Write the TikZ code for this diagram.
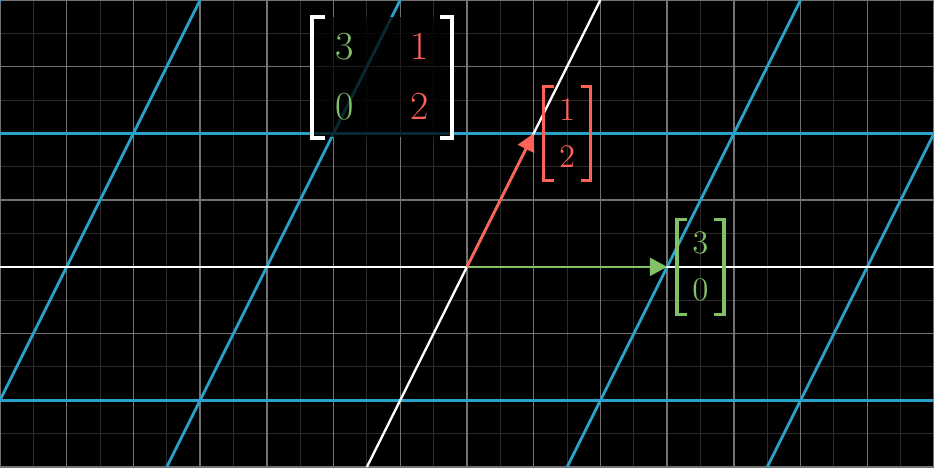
\documentclass[tikz,border=0pt]{standalone}
\usepackage{amsmath}
\usepackage{tikz}
\usetikzlibrary{arrows.meta}
\definecolor{igreen}{HTML}{83C167}
\definecolor{jred}{HTML}{FC6255}
\definecolor{tblue}{HTML}{29A3CC}

\begin{document}
\begin{tikzpicture}[>={Triangle[length=2.6mm, width=2.7mm]}, finegrid/.style={white!17!black, line width=0.4pt}, unitgrid/.style={white!45!black, line width=0.6pt}, tline/.style={tblue, line width=1.2pt}, axis/.style={white, line width=1pt}, vec/.style={->, line width=1.1pt}, bkt/.style={line width=1.7pt}, vbkt/.style={line width=1.3pt}, matbox/.style={minimum width=2.09cm, minimum height=1.77cm, inner sep=0pt, fill=black, fill opacity=0.75, text opacity=1, font=\fontsize{17}{25.6}\selectfont}, vecbox/.style={minimum width=0.69cm, minimum height=1.4cm, inner sep=0pt, align=center, font=\fontsize{14}{20}\selectfont}]
	\fill[black] (-7,-3) rectangle (7,4);
	\useasboundingbox (-7,-3) rectangle (7,4);
	\begin{scope}
		\clip (-7,-3) rectangle (7,4);
		\draw[finegrid] (-7,-3) grid[step=0.5] (7,4);
		\draw[unitgrid] (-7,-3) grid (7,4);
		\foreach \k in {-3,-2,-1,1,2}
			\draw[tline] ({3*\k-1.5},-3) -- ({3*\k+2},4);
		\foreach \k in {-1,1}
			\draw[tline] (-7,2*\k) -- (7,2*\k);
		\draw[axis] (-7,0) -- (7,0);
		\draw[axis] (-1.5,-3) -- (2,4);
	\end{scope}
	\coordinate (o) at (0,0);
	\coordinate (ihat) at (3,0);
	\coordinate (jhat) at (1,2);
	\draw[vec, igreen] (o) -- (ihat);
	\draw[vec, jred] (o) -- (jhat);
	\node[matbox] (mat) at (-1.27,2.84) {\begin{tabular}{@{}c@{\hspace{0.85cm}}c@{}}\textcolor{igreen}{3} & \textcolor{jred}{1}\\ \textcolor{igreen}{0} & \textcolor{jred}{2}\end{tabular}};
	\draw[bkt, white] ([xshift=0.19cm]mat.north west) -| (mat.south west) -- ++(0.19,0);
	\draw[bkt, white] ([xshift=-0.19cm]mat.north east) -| (mat.south east) -- ++(-0.19,0);
	\node[vecbox, jred] (jlab) at (1.5,2.0) {1\\2};
	\draw[vbkt, jred] ([xshift=0.15cm]jlab.north west) -| (jlab.south west) -- ++(0.15,0);
	\draw[vbkt, jred] ([xshift=-0.15cm]jlab.north east) -| (jlab.south east) -- ++(-0.15,0);
	\node[vecbox, igreen] (ilab) at (3.5,0) {3\\0};
	\draw[vbkt, igreen] ([xshift=0.15cm]ilab.north west) -| (ilab.south west) -- ++(0.15,0);
	\draw[vbkt, igreen] ([xshift=-0.15cm]ilab.north east) -| (ilab.south east) -- ++(-0.15,0);
\end{tikzpicture}
\end{document}
